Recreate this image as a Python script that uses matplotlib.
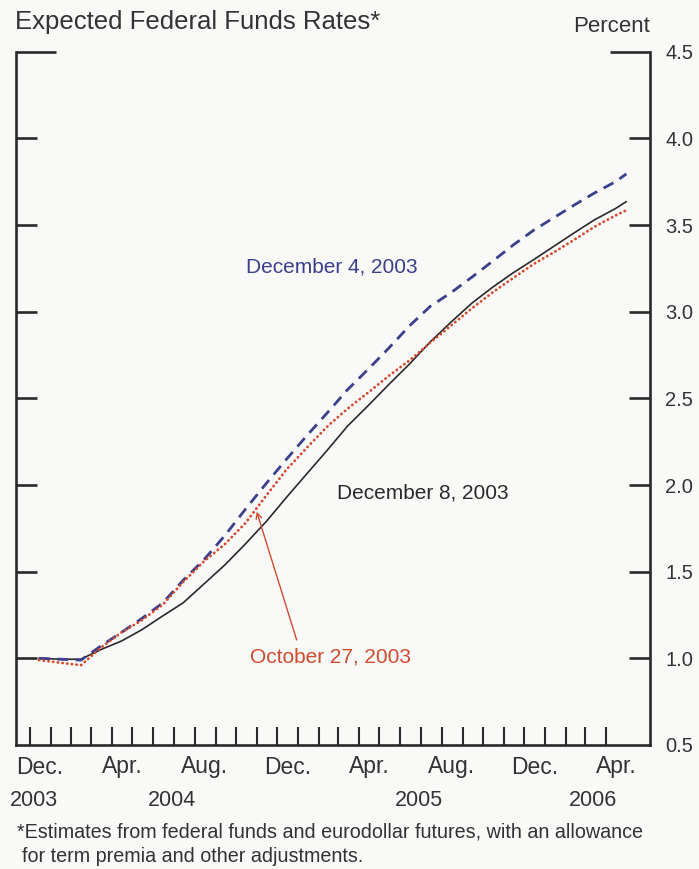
import pandas as pd
import matplotlib
matplotlib.use('Agg')
import matplotlib.pyplot as plt
import matplotlib.dates as mdates

plt.rcParams['font.family'] = ['Liberation Sans', 'DejaVu Sans']

# monthly points, Dec 2003 .. Apr 2006 (mid-month) plus end of horizon
fechas = ['2003-12-15', '2004-01-15', '2004-02-15', '2004-03-15', '2004-04-15',
          '2004-05-15', '2004-06-15', '2004-07-15', '2004-08-15', '2004-09-15',
          '2004-10-15', '2004-11-15', '2004-12-15', '2005-01-15', '2005-02-15',
          '2005-03-15', '2005-04-15', '2005-05-15', '2005-06-15', '2005-07-15',
          '2005-08-15', '2005-09-15', '2005-10-15', '2005-11-15', '2005-12-15',
          '2006-01-15', '2006-02-15', '2006-03-15', '2006-04-15', '2006-05-01']
dic8 = [1.00, 0.995, 0.995, 1.05, 1.10, 1.165, 1.245, 1.32, 1.43, 1.54,
        1.66, 1.79, 1.93, 2.07, 2.21, 2.34, 2.46, 2.58, 2.70, 2.825,
        2.94, 3.05, 3.14, 3.225, 3.30, 3.38, 3.46, 3.53, 3.595, 3.635]
dic4 = [1.00, 0.995, 0.99, 1.07, 1.15, 1.23, 1.32, 1.45, 1.57, 1.71,
        1.86, 2.01, 2.15, 2.29, 2.425, 2.55, 2.67, 2.79, 2.92, 3.03,
        3.11, 3.20, 3.29, 3.385, 3.47, 3.545, 3.62, 3.685, 3.75, 3.795]
oct27 = [0.99, 0.975, 0.96, 1.06, 1.15, 1.22, 1.31, 1.44, 1.56, 1.66,
         1.78, 1.94, 2.09, 2.22, 2.345, 2.44, 2.535, 2.63, 2.72, 2.82,
         2.92, 3.02, 3.11, 3.195, 3.275, 3.345, 3.42, 3.49, 3.555, 3.585]

meses_lbl = ['Dec.', 'Apr.', 'Aug.', 'Dec.', 'Apr.', 'Aug.', 'Dec.', 'Apr.']
meses_pos = ['2003-12-16', '2004-04-16', '2004-08-16', '2004-12-16',
             '2005-04-16', '2005-08-16', '2005-12-16', '2006-04-16']
anios = ['2003', '2004', '2005', '2006']
anios_x = [34, 172, 419, 593]
yticks = [0.5, 1.0, 1.5, 2.0, 2.5, 3.0, 3.5, 4.0, 4.5]

x = pd.to_datetime(fechas)

fig = plt.figure(figsize=(6.99, 8.69), dpi=100, facecolor='#f9f9f7')
ax = fig.add_axes([16/699, 1-745/869, 634/699, 693.3/869])
ax.set_facecolor('#f9f9f7')

ax.plot(x, dic8, color='#2a2a2a', lw=1.2, solid_capstyle='round')
ax.plot(x, dic4, color='#3b3f8c', lw=2.0, dashes=(4, 2.6))
ax.plot(x, oct27, color='#d8482c', lw=2.0, dashes=(0.1, 1.6), dash_capstyle='round')

ax.set_ylim(0.5, 4.5)

# frame: no top spine, the 4.5 ticks make the corners
ax.spines['top'].set_visible(False)
for s in ['left', 'right', 'bottom']:
    ax.spines[s].set_linewidth(1.9)
    ax.spines[s].set_color('#2a2a2a')

ax.xaxis.set_major_locator(mdates.MonthLocator(bymonthday=1))
ax.xaxis.set_major_formatter(plt.NullFormatter())
ax.set_xlim(pd.Timestamp('2003-11-11'), pd.Timestamp('2006-06-05'))
ax.tick_params(axis='x', which='major', direction='in', length=13, width=1.5,
               color='#2a2a2a', bottom=True, top=False)
# drop month ticks outside Dec 2003 .. Apr 2006
for t, loc in zip(ax.xaxis.get_major_ticks(), ax.xaxis.get_majorticklocs()):
    d = mdates.num2date(loc).replace(tzinfo=None)
    if d < pd.Timestamp('2003-12-01') or d > pd.Timestamp('2006-04-01'):
        t.tick1line.set_visible(False)

ax.set_yticks(yticks)
ax.set_yticklabels(['%.1f' % v for v in yticks])
ax.tick_params(axis='y', direction='in', length=15, width=1.9, color='#2a2a2a',
               left=True, right=True, labelleft=False, labelright=True,
               labelsize=14.5, labelcolor='#333333', pad=11)
yt = ax.yaxis.get_major_ticks()
yt[0].tick1line.set_visible(False)
yt[0].tick2line.set_visible(False)
yt[-1].tick1line.set_markersize(29)
yt[-1].tick2line.set_markersize(29)

# month and year labels
trans = ax.get_xaxis_transform()
for lbl, d in zip(meses_lbl, meses_pos):
    ax.text(pd.Timestamp(d), -22/693.3, lbl, transform=trans, ha='center', va='center',
            fontsize=16.5, color='#333333')
for lbl, px in zip(anios, anios_x):
    fig.text(px/699, 1-801/869, lbl, ha='center', va='center', fontsize=15.5, color='#333333')

# series labels
ax.text(0.3628, 0.6895, 'December 4, 2003', transform=ax.transAxes, ha='left', va='center',
        fontsize=15, color='#3b3f8c')
ax.text(0.5063, 0.3635, 'December 8, 2003', transform=ax.transAxes, ha='left', va='center',
        fontsize=15, color='#2a2a2a')
ax.text(0.369, 0.127, 'October 27, 2003', transform=ax.transAxes, ha='left', va='center',
        fontsize=15, color='#d24a2e')
ax.annotate('', xy=(0.3797, 0.3365), xytext=(0.4427, 0.1515), xycoords='axes fraction',
            textcoords='axes fraction',
            arrowprops=dict(arrowstyle='->', color='#d24a2e', lw=1.0, shrinkA=0, shrinkB=0))

fig.text(15/699, 1-22/869, 'Expected Federal Funds Rates*', ha='left', va='center',
         fontsize=18.5, color='#333333')
fig.text(650/699, 1-26/869, 'Percent', ha='right', va='center', fontsize=16, color='#333333')
fig.text(17/699, 1-832/869, '*Estimates from federal funds and eurodollar futures, with an allowance',
         ha='left', va='center', fontsize=14.2, color='#333333')
fig.text(22/699, 1-856/869, 'for term premia and other adjustments.',
         ha='left', va='center', fontsize=14.2, color='#333333')

fig.savefig('out.png', dpi=100, facecolor=fig.get_facecolor())
